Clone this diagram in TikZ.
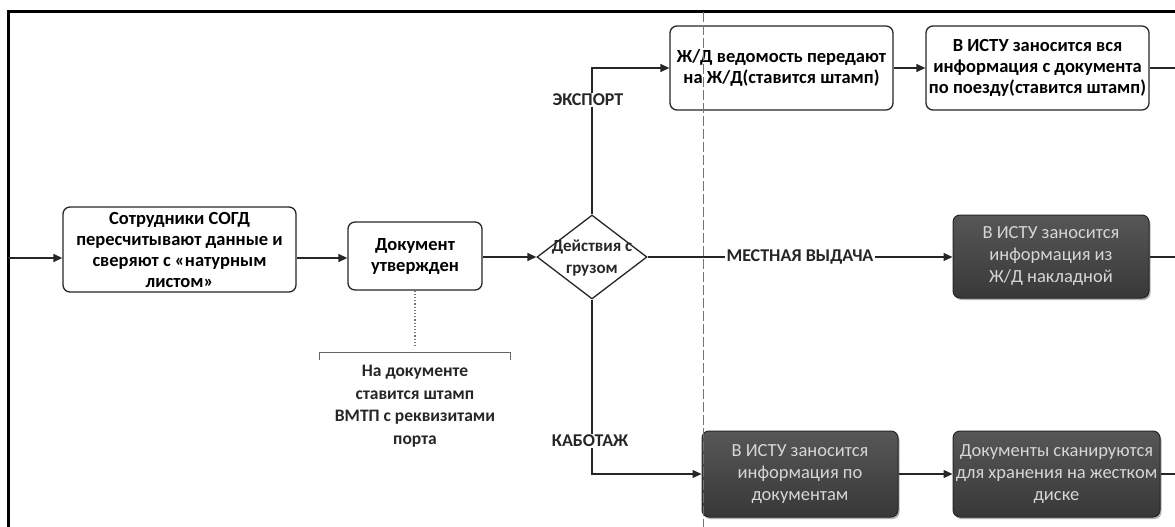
\documentclass[tikz,border=0pt]{standalone}
\usepackage{fontspec}
\setmainfont{Carlito}
\usetikzlibrary{arrows.meta,shapes.geometric,shadows}
\definecolor{lnc}{HTML}{262626}
\definecolor{dtext}{HTML}{D6D6D6}
\tikzset{
  wbox/.style={draw=lnc, line width=1.3pt, rounded corners=7pt, fill=white,
    font=\bfseries\fontsize{18.5}{21}\selectfont, align=center, inner sep=0pt},
  dbox/.style={draw=black!85, line width=1pt, rounded corners=7pt,
    top color=black!66, bottom color=black!78, text=dtext,
    font=\fontsize{18.5}{22}\selectfont, align=center, inner sep=0pt,
    drop shadow={shadow xshift=1.5pt, shadow yshift=-2pt, opacity=0.3, fill=black}},
  arr/.style={-{Triangle[length=9pt,width=8pt]}, line width=1.3pt, draw=lnc},
  ln/.style={line width=1.3pt, draw=lnc},
  lbl/.style={font=\bfseries\fontsize{18}{20}\selectfont, fill=white, inner sep=1.5pt, text=lnc},
}
\begin{document}
\begin{tikzpicture}[x=1pt,y=-1pt]
\useasboundingbox (0,0) rectangle (1175,527);
% frame
\draw[line width=3pt] (8,527) -- (8,12) -- (1175,12);

% nodes
\node[wbox, minimum width=233pt, minimum height=85pt] (b1) at (179.5,249.5)
  {Сотрудники СОГД\\пересчитывают данные и\\сверяют с «натурным\\листом»};
\node[wbox, minimum width=134pt, minimum height=68pt] (b2) at (415,256)
  {Документ\\утвержден};
\node[diamond, draw=lnc, line width=1.3pt, fill=white, minimum width=110pt,
  minimum height=84pt, inner sep=0pt] (dia) at (592,257) {};
\node[font=\bfseries\fontsize{17}{22}\selectfont, align=center, text=lnc] (diat) at (592,258)
  {Действия с\\грузом};
\node[wbox, minimum width=223pt, minimum height=84pt] (exp) at (781.5,68)
  {Ж/Д ведомость передают\\на Ж/Д(ставится штамп)};
\node[wbox, minimum width=223pt, minimum height=84pt] (tr) at (1037.5,68)
  {В ИСТУ заносится вся\\информация с документа\\по поезду(ставится штамп)};
\node[dbox, minimum width=196pt, minimum height=83pt] (mid) at (1051,256.5)
  {В ИСТУ заносится\\информация из\\Ж/Д накладной};
\node[dbox, minimum width=196pt, minimum height=86pt] (bl) at (800,474)
  {В ИСТУ заносится\\информация по\\документам};
\node[dbox, minimum width=207pt, minimum height=86pt] (br) at (1056.5,474)
  {Документы сканируются\\для хранения на жестком\\диске};

% connectors
\coordinate (in) at (8,258);
\coordinate (o1) at (1175,68);
\coordinate (o2) at (1175,257);
\coordinate (o3) at (1175,474);
\draw[arr] (in) -- (in -| b1.west);
\draw[arr] (b1.east |- in) -- (b2.west |- in);
\draw[arr] (b2.east |- dia.west) -- (dia.west);
\draw[arr] (dia.north) |- (exp.west);
\draw[arr] (exp) -- (tr);
\draw[ln] (tr.east) -- (o1);
\draw[arr] (dia.east) -- (mid.west |- dia.east);
\draw[ln] (mid.east |- o2) -- (o2);
\draw[arr] (dia.south) |- (bl.west);
\draw[arr] (bl) -- (br);
\draw[ln] (br.east) -- (o3);

% labels
\node[lbl] (lexp) at (588,100) {ЭКСПОРТ};
\node[lbl] (lmes) at (800,257) {МЕСТНАЯ ВЫДАЧА};
\node[lbl] (lkab) at (590,441) {КАБОТАЖ};

% annotation
\coordinate (nt) at (415,347);
\draw[dotted, line width=1.2pt, black!55] (b2.south) -- (nt);
\draw[line width=1pt, black!60] (319,360) -- (319,352) -- (510,352) -- (510,360);
\node[font=\bfseries\fontsize{17.5}{22.5}\selectfont, align=center, anchor=north, text=lnc] (note) at (415,362)
  {На документе\\ставится штамп\\ВМТП с реквизитами\\порта};

% swimlane divider
\draw[black!55, line width=1pt, dash pattern=on 10pt off 3pt] (703,12) -- (703,527);
\end{tikzpicture}
\end{document}
